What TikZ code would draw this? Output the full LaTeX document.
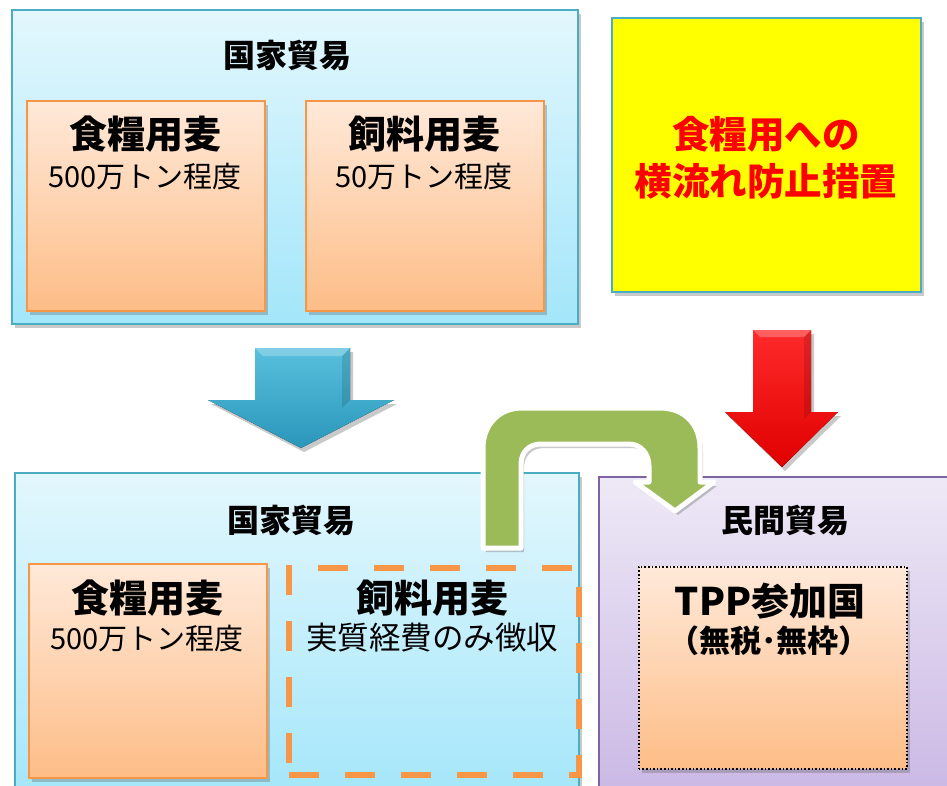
\documentclass[tikz,border=0pt]{standalone}
\usepackage{fontspec}
\newfontfamily\jp{Noto Sans CJK JP}
\usetikzlibrary{shadows}
\definecolor{tealb}{HTML}{4BACC6}
\definecolor{cyantop}{HTML}{E3F7FD}
\definecolor{cyanbot}{HTML}{A3E6FA}
\definecolor{ortop}{HTML}{FFE9D9}
\definecolor{orbot}{HTML}{FDBD87}
\definecolor{orline}{HTML}{F79646}
\definecolor{purtop}{HTML}{EEE9F6}
\definecolor{purbot}{HTML}{C9B6E4}
\definecolor{purline}{HTML}{8064A2}
\definecolor{grn}{HTML}{9BBB59}
\definecolor{bluearr}{HTML}{3BB5D8}
\definecolor{bluedark}{HTML}{2A96BA}
\definecolor{redtop}{HTML}{FF2A2A}
\definecolor{reddark}{HTML}{E00000}
\definecolor{yel}{HTML}{FFFF00}
\tikzset{
  shd/.style={drop shadow={shadow xshift=3pt, shadow yshift=-4pt, opacity=0.35, fill=black!60}},
  outerbox/.style={draw=tealb, line width=1.5pt, top color=cyantop, bottom color=cyanbot, anchor=north west, inner sep=0pt, shd},
  wheatbox/.style={draw=orline, line width=1.5pt, top color=ortop, bottom color=orbot, anchor=north west, inner sep=0pt, shd},
  purbox/.style={draw=purline, line width=1.5pt, top color=purtop, bottom color=purbot, anchor=north west, inner sep=0pt, shd},
  yelbox/.style={draw=tealb, line width=1.5pt, fill=yel, anchor=north west, inner sep=0pt, shd},
  dashbox/.style={draw=orline, line width=6pt, dash pattern=on 30pt off 26pt, anchor=north west, inner sep=0pt},
  dotbox/.style={draw=black, line width=1.6pt, dotted, top color=ortop, bottom color=orbot, anchor=north west, inner sep=0pt, shd},
  ttl/.style={font=\jp\bfseries\fontsize{32}{38}\selectfont, text=black, inner sep=0pt},
  big/.style={font=\jp\bfseries\fontsize{38}{44}\selectfont, text=black, inner sep=0pt},
  small/.style={font=\jp\fontsize{29}{34}\selectfont, text=black, inner sep=0pt},
  redtxt/.style={font=\jp\bfseries\fontsize{37.5}{47}\selectfont, text=red, align=center, inner sep=0pt},
}
\begin{document}
\begin{tikzpicture}[x=1pt, y=-1pt]
\clip (0,0) rectangle (947,785);
\fill[white] (0,0) rectangle (947,785);

% top state trade
\node[outerbox, minimum width=566pt, minimum height=314pt] (top) at (11,9) {};
\node[ttl] (toptitle) at (287,55) {国家貿易};
\node[wheatbox, minimum width=238pt, minimum height=210pt] (food1) at (26,100) {};
\node[wheatbox, minimum width=238pt, minimum height=210pt] (feed1) at (305,100) {};
\node[big] (food1a) at (145,134) {食糧用麦};
\node[small] (food1b) at (145,177) {500万トン程度};
\node[big] (feed1a) at (424,134) {飼料用麦};
\node[small] (feed1b) at (424,177) {50万トン程度};

% yellow
\node[yelbox, minimum width=309pt, minimum height=274pt] (yelb) at (611,17) {};
\node[redtxt] (yeltxt) at (766,158) {食糧用への\\横流れ防止措置};

% blue arrow
\fill[top color=bluearr!85!white, bottom color=bluedark, shd]
  (255,348) -- (350,348) -- (350,400) -- (394,400) -- (301,448) -- (208,400) -- (255,400) -- cycle;
\fill[white, opacity=0.25] (255,348) -- (350,348) -- (342,356) -- (263,356) -- cycle;
\fill[black, opacity=0.12] (350,348) -- (350,400) -- (342,408) -- (342,356) -- cycle;

% red arrow
\fill[top color=redtop, bottom color=reddark, shd]
  (753,330) -- (811,330) -- (811,412) -- (838,412) -- (782,467) -- (725,412) -- (753,412) -- cycle;
\fill[white, opacity=0.25] (753,330) -- (811,330) -- (804,337) -- (760,337) -- cycle;
\fill[black, opacity=0.12] (811,330) -- (811,412) -- (804,419) -- (804,337) -- cycle;

% bottom state trade
\node[outerbox, minimum width=564pt, minimum height=330pt] (bot) at (14,472) {};
\node[ttl] (bottitle) at (291,520) {国家貿易};
\node[wheatbox, minimum width=238pt, minimum height=214pt] (food2) at (28,563) {};
\node[big] (food2a) at (147,598) {食糧用麦};
\node[small] (food2b) at (147,638) {500万トン程度};
\node[dashbox, minimum width=290pt, minimum height=207pt] (feed2) at (286,565) {};
\node[big] (feed2a) at (432,598) {飼料用麦};
\node[small, font=\jp\fontsize{31.5}{36}\selectfont] (feed2b) at (432,638) {実質経費のみ徴収};

% private trade
\node[purbox, minimum width=370pt, minimum height=330pt] (priv) at (598,476) {};
\node[ttl] (privtitle) at (785,520) {民間貿易};
\node[dotbox, minimum width=268pt, minimum height=202pt] (tpp) at (638,566) {};
\node[big] (tppa) at (770,601) {TPP参加国};
\node[ttl, font=\jp\bfseries\fontsize{31}{36}\selectfont] (tppb) at (769,641) {（無税･無枠）};

% green U-turn arrow
\filldraw[fill=grn, draw=white, line width=5pt, line join=round, shd]
  (483,548) -- (483,448) .. controls (483,426) and (498,408) .. (522,408)
  -- (660,408) .. controls (684,408) and (700,424) .. (700,448)
  -- (700,482) -- (714,482) -- (675,511) -- (635,482) -- (649,482)
  -- (649,466) .. controls (649,454) and (641,444) .. (629,444)
  -- (541,444) .. controls (529,444) and (521,452) .. (521,464)
  -- (521,548) -- cycle;
\end{tikzpicture}
\end{document}
